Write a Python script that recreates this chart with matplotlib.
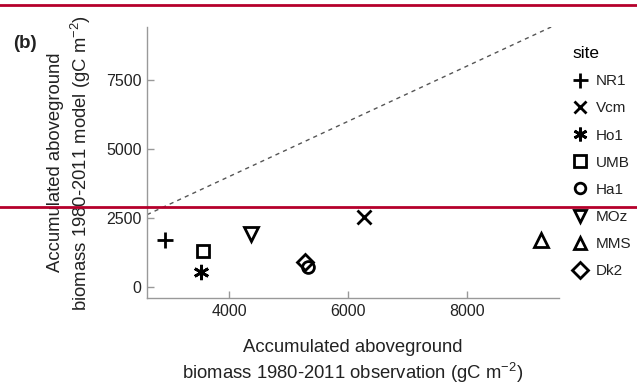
import matplotlib
matplotlib.use("Agg")
import matplotlib.pyplot as plt
from matplotlib.lines import Line2D

plt.rcParams['font.family'] = ['Liberation Sans', 'DejaVu Sans']
plt.rcParams['mathtext.fontset'] = 'custom'
plt.rcParams['mathtext.rm'] = 'Liberation Sans'
plt.rcParams['mathtext.it'] = 'Liberation Sans'
plt.rcParams['mathtext.default'] = 'regular'

# Accumulated aboveground biomass 1980-2011 per site (gC m-2)
sites = ["NR1", "Vcm", "Ho1", "UMB", "Ha1", "MOz", "MMS", "Dk2"]
observed = [2920, 6270, 3520, 3560, 5330, 4360, 9260, 5275]
modelled = [1690, 2520, 545, 1305, 725, 1910, 1700, 905]
markers = ["+", "x", (6, 2, 0), "s", "o", "v", "^", "D"]
marker_sizes = [12, 10, 11, 9, 8.5, 10, 10, 8.5]

x_ticks = [4000, 6000, 8000]
y_ticks = [0, 2500, 5000, 7500]

W, H = 637, 387
fig = plt.figure(figsize=(W / 100, H / 100), dpi=100)
ax = fig.add_axes([147 / W, 1 - 298 / H, (559 - 147) / W, (298 - 27) / H])

ax.set_xlim(2613, 9555)
ax.set_ylim(-410, 9423)

# 1:1 reference line
ax.axline((0, 0), slope=1, color="#555555", lw=1.0, ls=(0, (3, 3)), zorder=1)

handles = []
for name, xo, ym, mk, ms in zip(sites, observed, modelled, markers, marker_sizes):
    (h,) = ax.plot([xo], [ym], linestyle="none", marker=mk, markersize=ms,
                   markerfacecolor="none", markeredgecolor="black",
                   markeredgewidth=2.0, label=name, zorder=3)
    handles.append(h)

for side in ("top", "right"):
    ax.spines[side].set_visible(False)
for side in ("left", "bottom"):
    ax.spines[side].set_color("#999999")
    ax.spines[side].set_linewidth(1.0)

ax.set_xticks(x_ticks)
ax.set_yticks(y_ticks)
ax.set_xticklabels([str(v) for v in x_ticks])
ax.set_yticklabels([str(v) for v in y_ticks])
ax.tick_params(direction="in", length=5, width=1, color="#999999",
               labelsize=11.5, labelcolor="#222222", pad=4)

ax.set_xlabel("Accumulated aboveground\nbiomass 1980-2011 observation (gC m$^{-2}$)",
              fontsize=13.3, color="#222222", linespacing=1.25, labelpad=15)
ax.set_ylabel("Accumulated aboveground\nbiomass 1980-2011 model (gC m$^{-2}$)",
              fontsize=13.3, color="#222222", linespacing=1.32, labelpad=9)

leg = ax.legend(handles=handles, title="site", loc="upper left",
                bbox_to_anchor=(566 / W, 1 - 40 / H), bbox_transform=fig.transFigure,
                frameon=False, fontsize=11, title_fontsize=12.5,
                handlelength=1.0, handletextpad=0.55, labelspacing=0.86,
                markerscale=0.9, borderaxespad=0, alignment="left")
for t in leg.get_texts():
    t.set_color("#222222")

fig.text(13 / W, 1 - 43 / H, "(b)", fontsize=13.5, fontweight="bold",
         va="center", ha="left", color="#222222")

# Red rules across the page
for yp in (5, 207):
    fig.add_artist(Line2D([0, 1], [1 - yp / H, 1 - yp / H], transform=fig.transFigure,
                          color="#b5002b", lw=2.0))

fig.savefig("out.png", dpi=100)
